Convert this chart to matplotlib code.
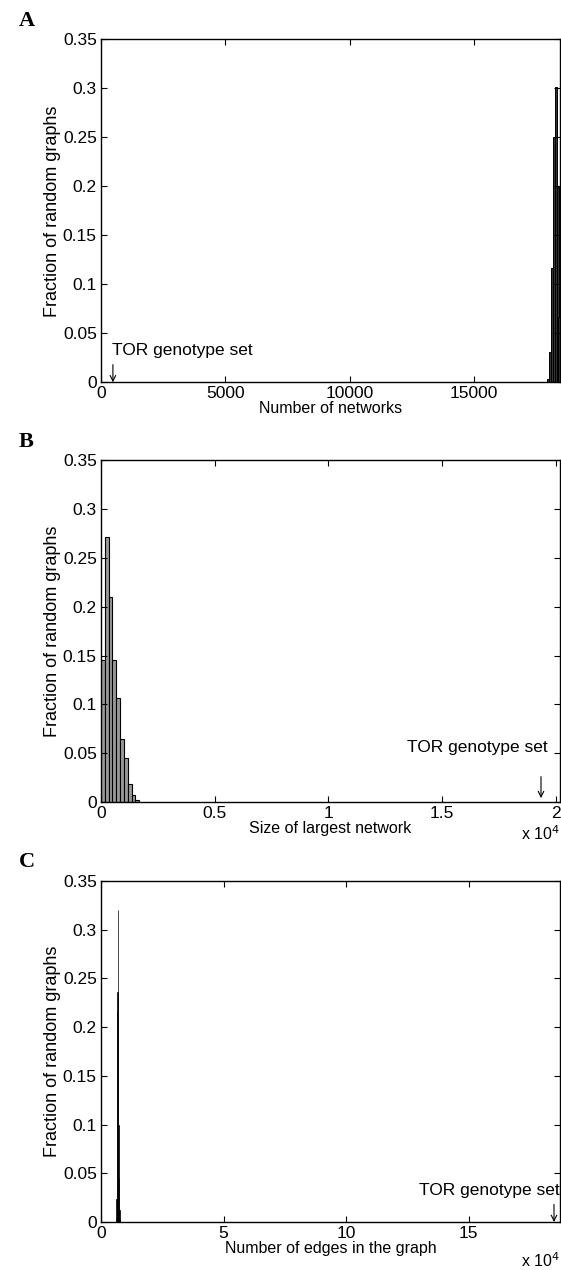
import numpy as np
import matplotlib.pyplot as plt

plt.rcParams['font.family'] = ['Liberation Sans', 'DejaVu Sans']

# panel A: number of networks
a_centers = [17964, 18045, 18125, 18206, 18286, 18367, 18430]
a_heights = [0.003, 0.031, 0.117, 0.250, 0.301, 0.199, 0.067]
a_width = 80
a_tor = 480

# panel B: size of largest network
b_centers = [84, 252, 420, 588, 756, 924, 1092, 1260, 1428, 1596]
b_heights = [0.145, 0.271, 0.210, 0.145, 0.107, 0.065, 0.045, 0.018, 0.007, 0.002]
b_width = 168
b_tor = 19350

# panel C: number of edges in the graph
c_centers = [6200, 6400, 6600, 6800, 7000, 7200, 7400, 7600, 7800]
c_heights = [0.003, 0.024, 0.217, 0.236, 0.320, 0.100, 0.045, 0.012, 0.003]
c_width = 200
c_tor = 184800

yticks = [0, 0.05, 0.1, 0.15, 0.2, 0.25, 0.3, 0.35]
ylabels = ['0', '0.05', '0.1', '0.15', '0.2', '0.25', '0.3', '0.35']

fig = plt.figure(figsize=(5.61, 12.70), dpi=100)
axA = fig.add_axes([0.180, 0.699, 0.818, 0.270])
axB = fig.add_axes([0.180, 0.3685, 0.818, 0.269])
axC = fig.add_axes([0.180, 0.0378, 0.818, 0.2685])

fs = 12.5

def style(ax):
    ax.set_ylim(0, 0.35)
    ax.set_yticks(yticks)
    ax.set_yticklabels(ylabels)
    ax.tick_params(direction='in', length=4, width=0.8, top=True, right=True,
                   labelsize=fs, pad=3)
    for s in ax.spines.values():
        s.set_linewidth(1.0)
    ax.set_ylabel('Fraction of random graphs', fontsize=13, labelpad=1)

def tor(ax, x, bot, top, text_y, text_x, ha):
    ax.annotate('', xy=(x, bot), xytext=(x, top),
                arrowprops=dict(arrowstyle='->', lw=0.8, color='k', shrinkA=0, shrinkB=0))
    ax.text(text_x, text_y, 'TOR genotype set', fontsize=fs, ha=ha, va='bottom')

# A
axA.bar(a_centers, a_heights, width=a_width, color='0.2', edgecolor='k', linewidth=0.7)
style(axA)
axA.set_xlim(0, 18460)
axA.set_xticks([0, 5000, 10000, 15000])
axA.set_xticklabels(['0', '5000', '10000', '15000'])
axA.set_xlabel('Number of networks', fontsize=fs - 1, labelpad=0)
tor(axA, a_tor, 0, 0.018, 0.025, a_tor - 20, 'left')

# B
axB.bar(b_centers, b_heights, width=b_width, color='0.6', edgecolor='k', linewidth=0.8)
style(axB)
axB.set_xlim(0, 20180)
axB.set_xticks([0, 5000, 10000, 15000, 20000])
axB.set_xticklabels(['0', '0.5', '1', '1.5', '2'])
axB.set_xlabel('Size of largest network', fontsize=fs - 1, labelpad=0)
tor(axB, b_tor, 0.004, 0.026, 0.048, b_tor + 300, 'right')
axB.text(1.0, -0.065, r'x 10$^4$', transform=axB.transAxes, fontsize=fs - 1,
         ha='right', va='top')

# C
axC.bar(c_centers, c_heights, width=c_width, color='k', edgecolor='k', linewidth=0.5)
style(axC)
axC.set_xlim(0, 187200)
axC.set_xticks([0, 50000, 100000, 150000])
axC.set_xticklabels(['0', '5', '10', '15'])
axC.set_xlabel('Number of edges in the graph', fontsize=fs - 1, labelpad=0)
tor(axC, c_tor, 0, 0.018, 0.025, c_tor + 2500, 'right')
axC.text(1.0, -0.085, r'x 10$^4$', transform=axC.transAxes, fontsize=fs - 1,
         ha='right', va='top')

for ax, letter in zip([axA, axB, axC], ['A', 'B', 'C']):
    ax.text(-0.18, 1.025, letter, transform=ax.transAxes, fontsize=16,
            fontweight='bold', family='Liberation Serif', ha='left', va='bottom')

fig.savefig('out.png', dpi=100)
